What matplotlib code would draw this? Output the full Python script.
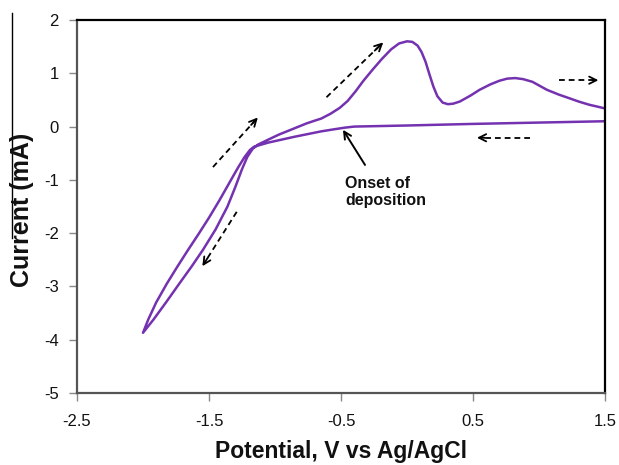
import matplotlib
matplotlib.use("Agg")
import matplotlib.pyplot as plt
from matplotlib.lines import Line2D

# ---- data ----
# Reverse (cathodic) scan from +1.5 V down to -2.0 V, then forward scan back to +1.5 V
potential_v = [
    1.50, 1.00, 0.50, 0.00, -0.40, -0.47, -0.55, -0.65, -0.75, -0.85, -0.95, -1.05, -1.12, -1.16,
    -1.19, -1.23, -1.28, -1.34, -1.42, -1.50, -1.58, -1.66, -1.74, -1.82, -1.90, -1.96, -2.00,
    -1.92, -1.82, -1.72, -1.63, -1.545, -1.45, -1.36, -1.30, -1.25, -1.21, -1.17, -1.13, -1.08,
    -1.03, -0.97, -0.90, -0.83, -0.76, -0.70, -0.65, -0.58, -0.51, -0.45, -0.39, -0.33, -0.26,
    -0.19, -0.12, -0.06, 0.00, 0.04, 0.08, 0.11, 0.14, 0.17, 0.20, 0.23, 0.27, 0.31, 0.35,
    0.40, 0.48, 0.55, 0.63, 0.70, 0.76, 0.82, 0.88, 0.95, 1.06, 1.15, 1.22, 1.30, 1.38, 1.45, 1.50,
]
current_ma = [
    0.10, 0.075, 0.05, 0.02, 0.00, -0.02, -0.05, -0.09, -0.14, -0.19, -0.245, -0.30, -0.35, -0.38,
    -0.44, -0.57, -0.77, -1.03, -1.38, -1.71, -2.02, -2.32, -2.63, -2.95, -3.30, -3.62, -3.87,
    -3.62, -3.28, -2.93, -2.62, -2.31, -1.93, -1.50, -1.13, -0.80, -0.57, -0.42, -0.34, -0.28,
    -0.22, -0.15, -0.08, -0.01, 0.06, 0.11, 0.15, 0.24, 0.35, 0.48, 0.66, 0.86, 1.07,
    1.27, 1.45, 1.56, 1.60, 1.59, 1.52, 1.40, 1.22, 0.98, 0.75, 0.57, 0.45, 0.42, 0.43,
    0.47, 0.58, 0.69, 0.79, 0.86, 0.90, 0.91, 0.89, 0.84, 0.69, 0.60, 0.54, 0.47, 0.41, 0.37, 0.34,
]

x_ticks = [-2.5, -1.5, -0.5, 0.5, 1.5]
x_tick_labels = ["-2.5", "-1.5", "-0.5", "0.5", "1.5"]
y_ticks = [-5, -4, -3, -2, -1, 0, 1, 2]
y_tick_labels = ["-5", "-4", "-3", "-2", "-1", "0", "1", "2"]

# scan-direction arrows: (x_start, y_start, x_end, y_end)
dashed_arrows = [
    (-1.47, -0.76, -1.13, 0.17),
    (-1.29, -1.60, -1.55, -2.62),
    (-0.61, 0.55, -0.18, 1.58),
    (1.15, 0.87, 1.45, 0.87),
    (0.93, -0.21, 0.53, -0.21),
]
onset_text = "Onset of\ndeposition"

plt.rcParams["font.family"] = ["Liberation Sans", "DejaVu Sans"]

fig = plt.figure(figsize=(6.19, 4.65), dpi=100)
ax = fig.add_axes([77/619, 1-393/465, (605-77)/619, (393-20)/465])

ax.plot(potential_v, current_ma, color="#7432B0", lw=1.8,
        solid_joinstyle="round", solid_capstyle="round")

for (x0, y0, x1, y1) in dashed_arrows:
    f = 0.85
    ax.plot([x0, x0 + (x1 - x0) * 0.97], [y0, y0 + (y1 - y0) * 0.97],
            color="black", lw=1.3, dashes=(3.2, 2.2))
    xm = x0 + (x1 - x0) * f
    ym = y0 + (y1 - y0) * f
    ax.annotate("", xy=(x1, y1), xytext=(xm, ym),
                arrowprops=dict(arrowstyle="->", color="black", lw=1.3,
                                mutation_scale=13, shrinkA=0, shrinkB=0))

ax.annotate("", xy=(-0.485, -0.06), xytext=(-0.318, -0.72),
            arrowprops=dict(arrowstyle="->", color="black", lw=1.4,
                            mutation_scale=13, shrinkA=0, shrinkB=0))
ax.text(-0.47, -0.92, onset_text, fontsize=11.5, fontweight="bold",
        va="top", ha="left", linespacing=1.2, color="#111111")

ax.set_xlim(-2.5, 1.5)
ax.set_ylim(-5, 2)
ax.set_xticks(x_ticks)
ax.set_xticklabels(x_tick_labels)
ax.set_yticks(y_ticks)
ax.set_yticklabels(y_tick_labels)
ax.tick_params(axis="both", direction="out", length=6, width=1, color="#888888",
               labelsize=12, labelcolor="#111111")
ax.tick_params(axis="x", pad=9)
ax.tick_params(axis="y", pad=7)

for side in ["left", "bottom"]:
    ax.spines[side].set_color("#555555")
    ax.spines[side].set_linewidth(1.6)
for side in ["top", "right"]:
    ax.spines[side].set_color("black")
    ax.spines[side].set_linewidth(1.6)

fig.text(341/619, 1-458/465, "Potential, V vs Ag/AgCl", fontsize=16.5, fontweight="bold",
         ha="center", va="baseline", color="#111111")
fig.text(22/619, 1-210/465, "Current (mA)", fontsize=18, fontweight="bold",
         ha="center", va="center", rotation=90, color="#111111")

fig.add_artist(Line2D([12/619, 12/619], [1-13/465, 1-238/465], color="black", lw=1.0))

fig.savefig("out.png", dpi=100)
